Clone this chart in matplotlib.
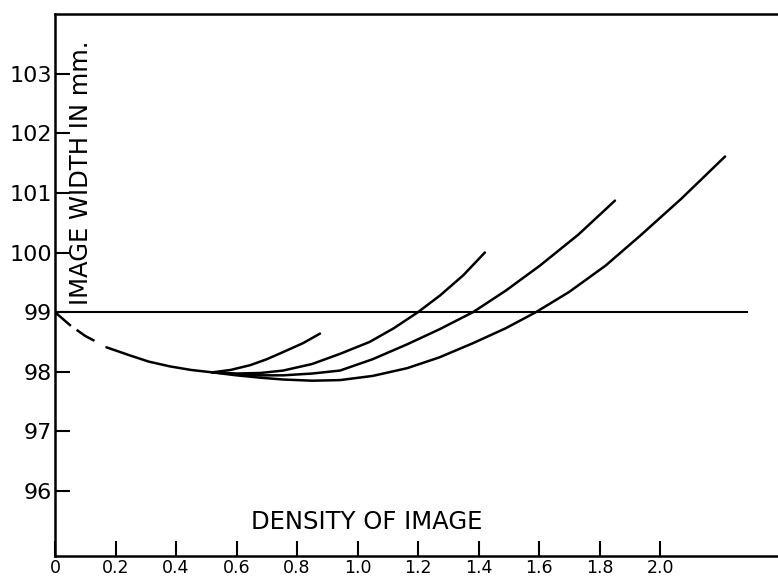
import numpy as np
import matplotlib
matplotlib.use("Agg")
import matplotlib.pyplot as plt
from matplotlib.ticker import FixedLocator, FixedFormatter

# data
x_ticks = [0.0, 0.2, 0.4, 0.6, 0.8, 1.0, 1.2, 1.4, 1.6, 1.8, 2.0]
x_tick_labels = ["0", "0.2", "0.4", "0.6", "0.8", "1.0", "1.2", "1.4", "1.6", "1.8", "2.0"]
y_ticks = [96, 97, 98, 99, 100, 101, 102, 103]
y_tick_labels = ["96", "97", "98", "99", "100", "101", "102", "103"]

ref_level = 99.0
ref_end = 2.29

# extrapolated (dashed) start of the curve
dash_x = [0.0, 0.05, 0.10, 0.149]
dash_y = [99.0, 98.78, 98.60, 98.47]

# shared solid part
common_x = [0.17, 0.25, 0.31, 0.38, 0.45, 0.52]
common_y = [98.41, 98.27, 98.17, 98.09, 98.03, 97.99]

branch1_x = [0.52, 0.58, 0.645, 0.70, 0.754, 0.82, 0.876]
branch1_y = [97.99, 98.03, 98.11, 98.21, 98.33, 98.48, 98.64]

branch2_x = [0.52, 0.60, 0.68, 0.754, 0.85, 0.942, 1.04, 1.12, 1.20, 1.273, 1.35, 1.421]
branch2_y = [97.99, 97.97, 97.98, 98.02, 98.13, 98.30, 98.50, 98.73, 99.0, 99.28, 99.62, 100.0]

branch3_x = [0.52, 0.60, 0.68, 0.754, 0.85, 0.942, 1.05, 1.164, 1.27, 1.382, 1.49, 1.603, 1.73, 1.851]
branch3_y = [97.99, 97.96, 97.94, 97.94, 97.97, 98.02, 98.21, 98.46, 98.71, 99.0, 99.36, 99.78, 100.30, 100.87]

branch4_x = [0.52, 0.60, 0.68, 0.754, 0.85, 0.942, 1.05, 1.164, 1.27, 1.382, 1.49, 1.59, 1.70, 1.82,
             1.934, 2.07, 2.215]
branch4_y = [97.99, 97.94, 97.90, 97.87, 97.85, 97.86, 97.93, 98.06, 98.24, 98.48, 98.73, 99.0, 99.34, 99.78,
             100.28, 100.90, 101.61]

plt.rcParams['font.family'] = ['DejaVu Sans']

fig = plt.figure(figsize=(7.78, 5.80), dpi=100)
W, H = 778, 580
ax = fig.add_axes([55 / W, (H - 556) / H, (W - 55) / W, (556 - 14) / H])

ax.set_xlim(0, 2.39)
ax.set_ylim(94.91, 104.0)

lw_curve = 1.8
ax.plot(dash_x, dash_y, color='black', linewidth=lw_curve, dashes=(8.4, 2.8))
ax.plot(common_x, common_y, color='black', linewidth=lw_curve, solid_capstyle='round')
for bx, by in [(branch1_x, branch1_y), (branch2_x, branch2_y),
               (branch3_x, branch3_y), (branch4_x, branch4_y)]:
    ax.plot(bx, by, color='black', linewidth=lw_curve, solid_capstyle='round',
            solid_joinstyle='round')

ax.hlines(ref_level, 0, ref_end, color='black', linewidth=1.5)

# axes frame
for side in ['left', 'bottom', 'top']:
    ax.spines[side].set_linewidth(1.8)
ax.spines['right'].set_visible(False)

ax.xaxis.set_major_locator(FixedLocator(x_ticks))
ax.xaxis.set_major_formatter(FixedFormatter(x_tick_labels))
ax.yaxis.set_major_locator(FixedLocator(y_ticks))
ax.yaxis.set_major_formatter(FixedFormatter(y_tick_labels))

ax.tick_params(axis='x', direction='in', length=11, width=1.5, pad=2, labelsize=12.5)
ax.tick_params(axis='y', direction='in', length=11, width=1.5, pad=2, labelsize=16)

ax.text(0.036, 0.708, "IMAGE WIDTH IN mm.", rotation=90, transform=ax.transAxes,
        ha='center', va='center', fontsize=17.5)
ax.text(0.4315, 0.0627, "DENSITY OF IMAGE", transform=ax.transAxes,
        ha='center', va='center', fontsize=17.5)

fig.savefig("out.png", dpi=100)
